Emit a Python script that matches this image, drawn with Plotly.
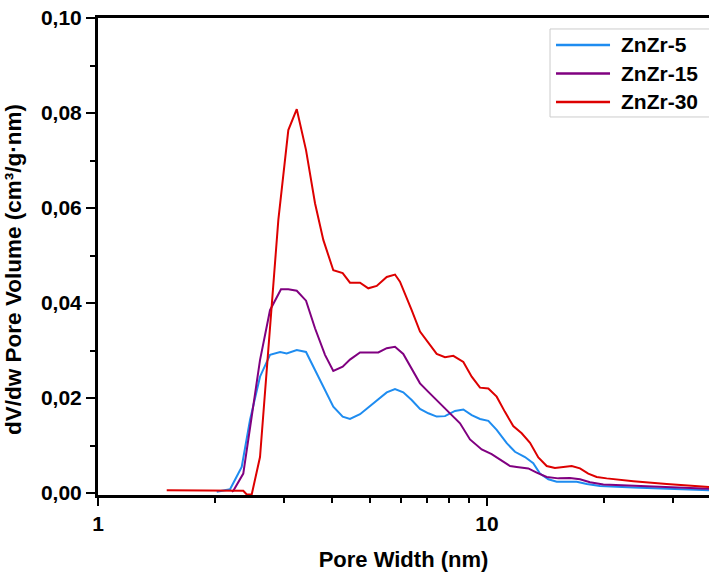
import plotly.graph_objects as go

# ---------------- data ----------------
series_names = ["ZnZr-5", "ZnZr-15", "ZnZr-30"]
series_colors = ["#1E8CF0", "#800080", "#DD0000"]

x_zn5 = [2.019, 2.185, 2.341, 2.459, 2.609, 2.768, 2.938, 3.056, 3.243, 3.426, 3.613, 3.833,
         4.026, 4.256, 4.444, 4.716, 5.003, 5.308, 5.524, 5.801, 6.092, 6.403, 6.726, 7.066,
         7.425, 7.799, 8.274, 8.693, 9.134, 9.594, 10.08, 10.59, 11.24, 11.80, 12.52, 13.15,
         13.68, 14.38, 15.11, 16.03, 17.01, 18.05, 19.52, 23.78, 28.97, 37.22]
y_zn5 = [0.0003, 0.0008, 0.0055, 0.0154, 0.0245, 0.0291, 0.0297, 0.0294, 0.0301, 0.0297,
         0.0259, 0.0217, 0.0182, 0.0161, 0.0156, 0.0166, 0.0183, 0.0199, 0.0212, 0.0219,
         0.0212, 0.0196, 0.0177, 0.0168, 0.0161, 0.0162, 0.0173, 0.0176, 0.0164, 0.0156,
         0.0152, 0.0133, 0.0105, 0.0087, 0.0076, 0.0063, 0.0041, 0.0029, 0.0024, 0.0024,
         0.0024, 0.0019, 0.0015, 0.0012, 0.0010, 0.0006]

x_zn15 = [2.207, 2.228, 2.363, 2.484, 2.609, 2.768, 2.954, 3.085, 3.243, 3.426, 3.613, 3.833,
          4.026, 4.256, 4.444, 4.716, 4.953, 5.255, 5.524, 5.801, 6.092, 6.403, 6.726, 7.066,
          7.425, 7.878, 8.524, 9.042, 9.691, 10.28, 10.80, 11.46, 11.92, 12.77, 13.42, 14.24,
          15.26, 16.34, 17.34, 18.40, 19.91, 23.78, 28.97, 37.22]
y_zn15 = [0.0003, 0.0005, 0.0041, 0.0161, 0.0280, 0.0385, 0.0429, 0.0429, 0.0426, 0.0405,
          0.0347, 0.0291, 0.0257, 0.0266, 0.0281, 0.0296, 0.0296, 0.0296, 0.0305, 0.0308,
          0.0293, 0.0263, 0.0231, 0.0213, 0.0196, 0.0175, 0.0147, 0.0113, 0.0092, 0.0082,
          0.0071, 0.0057, 0.0055, 0.0052, 0.0043, 0.0034, 0.0031, 0.0032, 0.0029, 0.0023,
          0.0018, 0.0015, 0.0012, 0.0009]

x_zn30 = [1.502, 2.363, 2.412, 2.484, 2.609, 2.740, 2.908, 3.085, 3.243, 3.426, 3.613, 3.795,
          4.026, 4.256, 4.444, 4.716, 4.953, 5.206, 5.524, 5.801, 5.974, 6.403, 6.726, 7.425,
          7.799, 8.192, 8.693, 9.134, 9.594, 10.08, 10.59, 11.12, 11.68, 12.28, 12.90, 13.55,
          14.24, 14.95, 15.71, 16.51, 17.34, 18.21, 19.14, 20.31, 23.78, 28.97, 37.22]
y_zn30 = [0.0006, 0.0005, -0.0003, -0.0003, 0.0076, 0.0308, 0.0575, 0.0764, 0.0808, 0.0722,
          0.0610, 0.0533, 0.0469, 0.0463, 0.0443, 0.0443, 0.0431, 0.0436, 0.0455, 0.0460,
          0.0445, 0.0385, 0.0340, 0.0293, 0.0286, 0.0289, 0.0276, 0.0245, 0.0222, 0.0220,
          0.0203, 0.0171, 0.0141, 0.0126, 0.0106, 0.0075, 0.0057, 0.0053, 0.0055, 0.0057,
          0.0052, 0.0041, 0.0034, 0.0031, 0.0025, 0.0019, 0.0013]

xs = [x_zn5, x_zn15, x_zn30]
ys = [y_zn5, y_zn15, y_zn30]

y_ticks = [0.0, 0.02, 0.04, 0.06, 0.08, 0.10]
x_ticks = [1, 10]
x_tick_labels = ["1", "10"]
x_minor = [2, 3, 4, 5, 6, 7, 8, 9, 20, 30]

x_title = "Pore Width (nm)"
y_title = "dV/dw Pore Volume (cm³/g·nm)"

FONT = "Liberation Sans, Arial, sans-serif"

fig = go.Figure()
for name, color, x, y in zip(series_names, series_colors, xs, ys):
    fig.add_trace(go.Scatter(x=x, y=y, mode="lines", name=name,
                             line=dict(color=color, width=2), showlegend=False))

# custom legend (box clipped by right edge like reference)
shapes = [dict(type="rect", xref="paper", yref="paper", x0=0.7398, x1=1.2, y0=0.7925, y1=0.977,
               line=dict(color="#cccccc", width=1), fillcolor="white", layer="above")]
annotations = []
legend_rows = [0.9434, 0.8836, 0.8239]
for name, color, ry in zip(series_names, series_colors, legend_rows):
    shapes.append(dict(type="line", xref="paper", yref="paper", x0=0.7496, x1=0.8380, y0=ry, y1=ry,
                       line=dict(color=color, width=2.5), layer="above"))
    annotations.append(dict(xref="paper", yref="paper", x=0.8527, y=ry, xanchor="left", yanchor="middle",
                            text=name, showarrow=False,
                            font=dict(family=FONT, size=21, color="black", weight="bold")))

# y-axis title (slightly below centre, like the reference)
annotations.append(dict(xref="paper", yref="paper", x=-0.1375, y=0.474, xanchor="center", yanchor="middle",
                        text=y_title, textangle=-90, showarrow=False,
                        font=dict(family=FONT, size=22.5, color="black", weight="bold")))

fig.update_layout(
    width=709, height=572,
    margin=dict(l=98, r=0, t=18, b=77, autoexpand=False),
    paper_bgcolor="white", plot_bgcolor="white",
    separators=",.",
    shapes=shapes, annotations=annotations,
    xaxis=dict(type="log", range=[0, 1.5707],
               tickvals=x_ticks, ticktext=x_tick_labels,
               ticks="outside", ticklen=8, tickwidth=2, tickcolor="black",
               minor=dict(tickvals=x_minor, ticks="outside", ticklen=5, tickwidth=2, tickcolor="black"),
               showline=True, linewidth=3, linecolor="black", mirror=True,
               showgrid=False, zeroline=False,
               tickfont=dict(family=FONT, size=21, color="black", weight="bold"),
               title=dict(text=x_title, standoff=19,
                          font=dict(family=FONT, size=22, color="black", weight="bold"))),
    yaxis=dict(range=[-0.0004, 0.1], tickvals=y_ticks, tickformat=".2f",
               ticks="outside", ticklen=9, tickwidth=2, tickcolor="black",
               minor=dict(dtick=0.01, tick0=0, ticks="outside", ticklen=5, tickwidth=2, tickcolor="black"),
               showline=True, linewidth=3, linecolor="black", mirror=False,
               showgrid=False, zeroline=False,
               tickfont=dict(family=FONT, size=21, color="black", weight="bold")),
)

fig.write_html("out.html")
